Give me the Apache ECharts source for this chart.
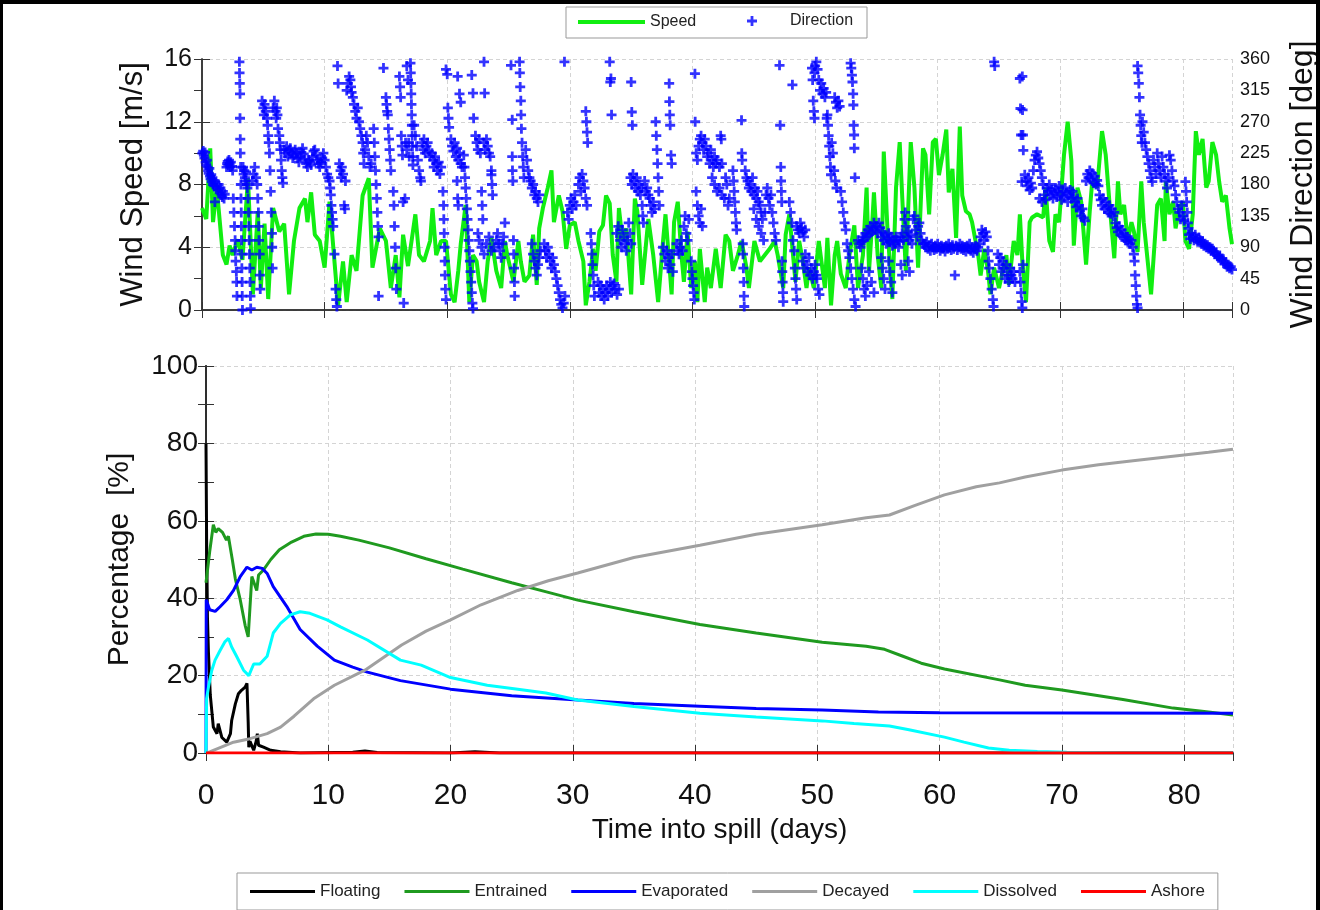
<!DOCTYPE html>
<html>
<head>
<meta charset="utf-8">
<script src="https://cdn.jsdelivr.net/npm/echarts@6/dist/echarts.min.js"></script>
<style>
  html, body { margin: 0; padding: 0; background: #fff; }
  #chart { width: 1320px; height: 910px; }
</style>
</head>
<body>
<div id="chart"></div>
<script>
// wind speed [day, m/s]
var windSpeed = [
  [0,6.5],[0.35,5.8],[0.67,10.3],[0.9,5.6],[1.2,7.8],[1.7,3.5],[2.0,2.9],[2.25,4.1],[2.5,3.5],[2.9,4.5],
  [3.3,3.2],[3.75,8.4],[4.15,1.0],[4.55,6.3],[4.8,1.4],[5.1,5.5],[5.4,0.7],[5.8,6.5],[6.3,5.0],[6.7,5.5],
  [7.1,1.0],[7.5,4.4],[7.95,6.5],[8.4,7.1],[8.6,5.6],[8.9,7.5],[9.2,4.8],[9.6,4.4],[10.0,2.7],[10.4,6.9],
  [11.1,0.3],[11.5,3.1],[11.8,0.5],[12.2,3.5],[12.6,2.5],[13.1,7.3],[13.6,8.4],[13.9,2.7],[14.5,5.2],[15.0,4.4],
  [15.4,1.4],[15.8,3.5],[16.1,0.8],[16.4,4.8],[16.8,2.8],[17.4,6.1],[17.7,3.5],[18.1,3.1],[18.6,4.4],[18.8,6.5],
  [19.1,3.5],[19.5,4.4],[19.9,4.4],[20.3,1.0],[20.6,0.5],[20.9,2.5],[21.1,4.2],[21.5,6.7],[21.8,0.5],[22.1,3.5],
  [22.4,3.1],[22.6,1.8],[23.0,0.5],[23.3,3.1],[23.6,4.6],[24.0,2.5],[24.4,1.4],[24.7,4.4],[24.9,3.5],[25.4,1.8],
  [25.8,4.4],[26.0,3.1],[26.3,1.8],[26.7,2.2],[27.0,4.8],[27.3,1.6],[27.5,5.2],[27.8,6.5],[28.2,7.8],[28.5,8.9],
  [28.7,5.6],[29.1,7.3],[29.4,6.3],[29.7,3.9],[30.0,5.4],[30.4,5.6],[30.7,4.4],[31.1,3.1],[31.3,0.3],[31.6,1.8],
  [31.9,3.9],[32.1,2.5],[32.4,5.0],[32.7,5.4],[32.95,7.3],[33.25,6.8],[33.5,3.5],[33.8,1.8],[34.0,6.5],[34.3,4.4],
  [34.6,5.2],[35.0,1.0],[35.3,7.1],[35.5,6.3],[35.9,1.6],[36.4,5.8],[36.8,3.5],[37.2,0.5],[37.6,4.4],[37.8,6.1],
  [38.3,1.0],[38.5,5.6],[38.8,6.9],[39.1,3.5],[39.3,1.8],[39.6,5.0],[39.9,1.4],[40.2,3.1],[40.4,0.5],[40.6,3.9],
  [41.0,0.5],[41.2,2.7],[41.5,1.4],[41.9,3.9],[42.3,1.4],[42.7,4.8],[43.0,4.4],[43.3,2.5],[43.7,3.5],[44.0,4.4],
  [44.4,2.7],[44.6,1.4],[45.05,4.4],[45.5,3.1],[45.9,3.5],[46.3,3.9],[46.7,4.4],[46.95,3.5],[47.4,1.4],[47.6,4.8],
  [47.9,6.1],[48.2,3.5],[48.4,1.8],[48.7,4.4],[49.0,3.1],[49.3,1.4],[49.5,2.7],[49.9,1.4],[50.3,4.4],[50.8,1.4],
  [51.0,4.6],[51.3,0.3],[51.6,3.5],[51.8,4.4],[52.1,2.3],[52.5,1.4],[52.8,3.5],[53.2,5.4],[53.5,1.4],[53.9,3.5],
  [54.2,7.8],[54.4,2.5],[54.7,6.1],[54.8,7.5],[55.1,3.5],[55.4,1.4],[55.6,10.1],[55.9,5.2],[56.3,0.7],[56.6,7.8],
  [56.9,10.7],[57.1,7.3],[57.4,2.5],[57.8,10.7],[58.1,7.8],[58.4,2.7],[58.8,10.3],[59.0,9.9],[59.3,6.1],[59.6,10.7],
  [59.85,10.9],[60.1,8.6],[60.4,9.9],[60.7,11.5],[60.9,7.5],[61.2,9.0],[61.5,4.6],[61.8,11.7],[62.0,7.3],[62.3,6.3],
  [62.6,6.1],[62.8,5.6],[63.3,3.5],[63.5,2.2],[63.8,3.9],[64.1,2.5],[64.3,1.0],[64.6,2.7],[65.0,1.4],[65.3,2.5],
  [65.6,3.5],[65.8,1.6],[66.2,4.4],[66.5,3.5],[66.7,6.1],[66.9,3.1],[67.2,0.5],[67.5,5.6],[67.7,5.9],[68.1,6.1],
  [68.6,5.9],[68.8,7.8],[69.1,4.4],[69.4,3.7],[69.6,6.1],[69.9,5.6],[70.3,9.9],[70.6,12.0],[70.9,9.5],[71.1,4.1],
  [71.4,7.8],[71.7,6.9],[72.1,2.9],[72.4,6.3],[72.6,8.2],[73.0,7.8],[73.4,11.4],[73.7,9.9],[74.0,6.9],[74.4,3.3],
  [74.7,8.2],[74.9,6.1],[75.2,6.7],[75.5,4.4],[75.8,5.6],[76.0,5.0],[76.3,3.7],[76.6,8.2],[76.8,5.6],[77.1,3.3],
  [77.4,1.0],[77.7,4.4],[77.9,6.7],[78.2,7.1],[78.5,4.4],[78.6,8.2],[78.9,6.1],[79.2,6.9],[79.4,5.2],[79.7,6.5],
  [80.0,6.9],[80.2,4.4],[80.5,3.9],[80.8,6.1],[81.05,11.4],[81.3,9.9],[81.6,10.9],[81.9,7.8],[82.1,8.2],[82.4,10.7],
  [82.7,9.9],[82.95,8.2],[83.2,6.9],[83.5,7.3],[83.8,5.2],[84.0,4.2]
];

// wind direction [day, deg]
var windDir = [
  [0.03,225],[0.1,228],[0.15,222],[0.2,218],[0.25,226],[0.3,212],[0.35,208],[0.4,215],[0.45,205],[0.5,200],
  [0.55,196],[0.6,203],[0.65,192],[0.7,188],[0.75,194],[0.8,184],[0.85,190],[0.9,180],[0.95,186],[1.0,178],[1.05,155],
  [1.1,183],[1.2,176],[1.3,172],[1.35,180],[1.45,168],[1.5,175],[1.6,165],[1.65,162],[1.7,170],[1.8,160],[1.85,166],
  [2.0,205],[2.05,210],[2.1,213],[2.15,208],[2.2,215],[2.25,210],[2.3,205],[2.35,212],[2.45,206],[2.5,200],
  [2.55,160],[2.6,140],[2.65,120],[2.7,100],[2.72,85],[2.75,70],[2.8,55],[2.82,40],[2.85,20],
  [3.05,356],[3.06,340],[3.08,325],[3.1,310],[3.1,275],[3.12,245],[3.13,225],[3.15,205],[3.17,180],[3.18,160],
  [3.2,140],[3.21,120],[3.22,100],[3.24,80],[3.25,60],[3.27,40],[3.28,20],[3.3,0],
  [3.35,205],[3.4,195],[3.45,200],[3.5,190],[3.55,185],[3.6,198],[3.65,180],[3.7,175],[3.75,160],[3.8,140],
  [3.82,120],[3.85,100],[3.87,80],[3.9,60],[3.92,40],[3.95,20],[3.97,2],[4.1,185],[4.2,195],[4.3,205],[4.4,190],
  [4.5,180],[4.55,160],[4.6,140],[4.62,120],[4.65,100],[4.7,80],[4.72,50],[4.75,30],
  [4.9,300],[5.0,290],[5.05,280],[5.1,295],[5.2,285],[5.3,275],[5.35,265],[5.4,250],[5.45,240],[5.5,225],
  [5.55,200],[5.6,170],[5.65,140],[5.7,110],[5.72,90],[5.75,60],[5.8,290],[5.9,300],[6.0,285],[6.05,275],
  [6.1,290],[6.15,280],[6.2,260],[6.3,250],[6.35,240],[6.4,230],[6.45,215],[6.5,200],[6.55,190],[6.6,182],
  [6.7,230],[6.8,225],[6.9,235],[7.0,220],[7.1,228],[7.2,232],[7.3,225],[7.4,218],[7.5,222],[7.6,230],
  [7.7,226],[7.8,218],[7.9,212],[8.0,220],[8.1,226],[8.2,232],[8.3,224],[8.4,216],[8.5,210],[8.6,205],
  [8.7,215],[8.8,212],[8.9,208],[9.0,220],[9.1,228],[9.2,230],[9.3,222],[9.4,215],[9.5,210],[9.6,205],
  [9.7,212],[9.8,218],[9.9,225],[10.0,215],[10.1,205],[10.2,195],[10.3,190],
  [10.4,185],[10.45,175],[10.5,165],[10.55,150],[10.6,140],[10.65,130],[10.7,120],[10.8,80],[10.9,30],
  [10.95,15],[11.0,5],[11.05,350],[11.1,325],
  [11.2,210],[11.3,200],[11.35,190],[11.4,205],[11.5,195],[11.6,150],[11.65,145],[11.7,185],
  [11.8,315],[11.9,325],[12.0,335],[12.1,330],[12.15,320],[12.2,312],[12.3,305],[12.4,295],[12.5,285],
  [12.6,275],[12.7,290],[12.8,270],[12.9,260],[13.0,250],[13.1,240],[13.15,225],[13.2,210],
  [13.3,230],[13.4,250],[13.5,240],[13.6,220],[13.7,205],[13.8,210],[14.0,260],[14.05,240],[14.1,220],
  [14.15,200],[14.2,180],[14.25,160],[14.3,140],[14.35,120],[14.4,105],[14.4,20],
  [14.8,347],[15.0,305],[15.05,295],[15.1,285],[15.15,280],[15.2,260],[15.25,245],[15.3,230],[15.35,215],
  [15.4,200],[15.6,170],[15.65,150],[15.7,120],[15.75,90],[15.8,60],[15.85,30],[16.1,335],[16.15,320],
  [16.2,305],[16.25,250],[16.3,235],[16.35,222],[16.4,155],[16.45,10],[16.7,350],[16.8,330],[16.85,240],[16.9,220],
  [17.0,354],[17.02,340],[17.04,325],[17.06,310],[17.08,295],[17.1,280],[17.12,265],[17.14,250],[17.16,235],
  [17.18,220],[17.2,208],[16.6,240],[16.7,230],[16.55,160],
  [17.3,265],[17.4,250],[17.5,235],[17.6,215],[17.7,200],[17.8,190],[17.85,185],
  [17.95,240],[18.05,230],[18.1,245],[18.2,225],[18.3,235],[18.4,240],[18.5,228],[18.6,220],
  [18.75,225],[18.85,215],[18.9,205],[19.0,220],[19.1,210],[19.2,200],[19.3,212],[19.4,195],[19.5,205],
  [19.65,170],[19.7,150],[19.72,130],[19.75,110],[19.78,90],[19.8,70],[19.82,50],[19.85,30],[19.9,15],
  [19.9,345],[20.0,338],[20.05,290],[20.1,275],[20.15,262],
  [20.3,245],[20.4,235],[20.5,228],[20.6,240],[20.7,220],[20.8,232],[20.9,215],[21.0,225],[21.1,210],[21.2,205],
  [20.85,335],[21.0,310],[21.1,298],[20.8,185],[20.85,160],[20.9,150],
  [21.35,222],[21.4,205],[21.45,190],[21.5,175],[21.55,160],[21.6,145],[21.65,130],[21.7,115],[21.75,100],
  [21.8,85],[21.85,70],[21.9,55],[21.95,40],[22.0,25],[22.05,10],[22.1,2],
  [22.0,337],[22.1,311],[22.15,275],
  [22.3,250],[22.4,240],[22.5,230],[22.6,245],[22.7,225],[22.8,170],[22.85,150],[22.9,130],[23.0,240],
  [23.1,230],[23.2,245],[23.3,235],[23.4,225],[23.5,220],[23.6,200],[23.65,180],[23.7,165],
  [22.5,110],[22.6,100],[22.8,90],[23.0,80],[23.2,95],[23.4,105],[23.6,85],[23.8,90],[24.0,100],[24.1,110],
  [24.2,95],[24.3,85],[24.4,75],[24.5,95],[24.6,105],[24.7,125],
  [23.0,356],[23.05,311],[23.6,194],
  [25.2,351],[25.3,273],[25.3,220],[25.32,200],[25.35,185],[25.4,100],[25.42,80],[25.45,60],[25.48,40],[25.5,20],
  [25.9,356],[25.92,340],[25.95,320],[26.0,300],[26.02,280],[26.05,260],[26.1,240],[26.15,220],[26.2,205],[26.25,190],
  [26.4,230],[26.5,215],[26.6,200],[26.7,190],[26.8,185],[26.9,175],[27.0,180],[27.1,165],[27.2,170],[27.3,160],
  [27.4,155],[27.5,165],
  [26.9,95],[27.0,80],[27.1,70],[27.2,60],[27.3,50],[27.4,65],[27.5,75],[27.6,85],
  [27.9,95],[28.0,85],[28.1,75],[28.2,90],[28.3,80],[28.4,70],[28.5,60],[28.6,75],[28.7,65],[28.8,55],
  [28.9,45],[29.0,35],[29.1,25],[29.2,15],[29.3,8],[29.4,3],[29.5,10],[29.6,20],[29.56,356],
  [29.8,140],[29.9,130],[30.0,150],[30.1,160],[30.2,145],[30.3,155],[30.4,165],[30.5,150],
  [30.7,180],[30.8,190],[30.9,170],[31.0,195],[31.1,185],[31.2,175],[31.3,160],[31.4,150],
  [31.3,285],[31.35,270],[31.4,255],[31.45,240],
  [31.7,110],[31.75,95],[31.8,80],[31.85,65],[31.9,50],[31.95,35],[32.0,20],
  [32.3,40],[32.4,25],[32.5,35],[32.6,20],[32.7,30],[32.8,15],[32.9,25],[33.0,35],[33.1,20],[33.2,30],
  [33.3,40],[33.4,25],[33.5,35],[33.35,332],[33.4,280],
  [33.6,38],[33.7,30],[33.85,22],[34.0,30],[33.25,356],[33.3,327],
  [33.8,110],[33.95,120],[34.1,100],[34.2,90],[34.3,115],[34.4,105],[34.5,95],[34.6,85],[34.7,100],[34.8,125],
  [34.9,110],[35.0,95],[35.0,327],[35.05,284],[35.1,265],
  [34.95,190],[35.05,180],[35.15,195],[35.25,185],[35.35,175],[35.45,190],[35.55,170],[35.65,180],[35.75,165],
  [35.85,175],[35.9,150],[35.95,135],[36.0,125],[36.1,185],[36.2,170],[36.3,175],[36.4,165],
  [36.5,160],[36.6,150],[36.7,140],[36.8,155],[36.9,145],[37.0,270],[37.05,250],[37.1,230],[37.15,210],
  [37.2,190],[37.25,170],[37.3,150],
  [37.6,90],[37.7,80],[37.8,70],[37.9,85],[38.0,60],[38.1,75],[38.2,65],[38.3,80],[38.4,55],
  [38.1,325],[38.12,299],[38.15,280],[38.18,265],[38.25,222],[38.3,210],
  [38.7,95],[38.8,85],[38.9,80],[39.0,90],[39.1,100],[39.2,85],[39.3,120],[39.4,135],[39.5,110],[39.6,100],[39.7,130],
  [39.9,70],[39.95,55],[40.0,45],[40.05,35],[40.1,25],[40.15,15],[40.2,339],[40.22,270],
  [40.3,170],[40.4,150],[40.5,135],[40.6,125],[40.7,145],[40.8,120],
  [40.3,225],[40.4,215],[40.5,235],[40.6,245],[40.7,250],[40.8,240],[40.9,230],[41.0,245],[41.1,235],[41.2,220],
  [41.3,225],[41.4,210],[41.5,230],[41.6,215],[41.7,205],[41.8,220],[41.9,210],[42.0,215],[42.2,205],[42.3,250],
  [42.35,245],[42.4,210],
  [41.6,190],[41.8,180],[42.0,170],[42.2,175],[42.4,165],[42.6,160],[42.7,190],[42.8,180],[42.9,150],[43.0,160],
  [43.3,200],[43.35,185],[43.4,170],[43.45,155],[43.5,140],[43.55,125],[43.6,115],
  [44.0,272],[44.02,225],[44.05,215],[44.1,95],[44.12,80],[44.15,60],[44.18,40],[44.2,20],[44.22,5],
  [44.3,200],[44.4,190],[44.5,185],[44.6,175],[44.7,180],[44.8,170],[44.9,190],[45.0,165],[45.1,175],[45.2,160],
  [45.3,170],[45.4,155],[45.5,150],[45.6,140],[45.7,130],
  [45.0,145],[45.2,130],[45.4,120],[45.6,110],[45.8,100],[45.9,140],
  [46.0,165],[46.1,175],[46.2,160],[46.3,150],[46.4,165],[46.5,140],[46.6,125],[46.7,110],[46.8,100],
  [47.1,351],[47.15,265],[47.2,205],[47.22,185],[47.25,170],[47.28,155],[47.3,70],[47.32,55],[47.35,40],
  [47.38,25],[47.4,12],
  [47.9,155],[48.0,140],[48.1,125],[48.15,323],[48.2,100],[48.3,85],[48.35,60],[48.4,45],[48.45,30],[48.5,15],
  [48.5,120],[48.6,115],[48.7,110],[48.8,125],[48.9,118],[49.0,112],[49.1,105],[49.2,115],
  [49.0,70],[49.1,60],[49.2,80],[49.3,65],[49.4,55],[49.5,75],[49.6,50],[49.7,60],[49.8,45],[49.9,55],[50.0,65],[50.1,50],
  [49.75,347],[49.8,330],[49.85,300],[49.9,285],[49.95,275],
  [49.95,340],[50.0,350],[50.1,356],[50.2,345],[50.3,330],[50.4,315],[50.5,325],[50.6,310],[50.7,318],[50.8,305],
  [50.9,312],[50.95,275],[50.15,45],[50.25,30],[50.35,22],
  [51.0,280],[51.05,265],[51.1,250],[51.15,235],[51.2,220],[51.25,205],[51.3,194],[51.35,240],[51.45,225],
  [51.55,200],[51.65,185],[51.75,175],
  [51.6,305],[51.7,298],[51.8,290],[51.9,300],[52.0,292],
  [52.1,170],[52.2,155],[52.3,140],[52.4,125],[52.5,115],[52.6,95],[52.7,85],
  [52.9,354],[52.95,347],[53.0,337],[53.05,327],[53.1,310],[53.12,294],[53.15,265],[53.18,251],[53.2,232],[53.25,190],
  [52.8,75],[52.9,60],[53.0,45],[53.1,30],[53.2,15],[53.3,5],
  [53.5,100],[53.6,95],[53.7,90],[53.8,98],[53.9,105],[54.0,100],[54.1,110],[54.2,105],[54.3,115],[54.4,108],
  [54.5,120],[54.6,112],[54.7,118],[54.8,125],[54.9,115],[55.0,120],[55.1,110],[55.2,125],[55.3,118],
  [53.8,60],[53.9,45],[54.0,30],[54.1,20],[54.2,35],[54.4,55],[54.6,40],[54.8,25],
  [55.4,105],[55.5,112],[55.6,100],[55.7,108],[55.8,95],[55.9,102],[56.0,110],[56.1,98],[56.2,105],[56.3,92],
  [56.4,100],[56.5,95],[56.6,105],[56.7,100],[56.8,90],[56.9,98],[57.0,105],[57.1,110],[57.2,100],[57.3,130],
  [57.35,140],[57.4,120],[57.5,105],[57.6,112],[57.7,100],[57.8,108],[57.9,95],[58.0,130],[58.1,135],[58.2,115],
  [58.3,105],[58.4,120],[58.5,125],[58.6,110],[58.7,100],[58.8,95],
  [55.4,75],[55.5,60],[55.6,45],[55.7,30],[56.0,70],[56.1,55],[56.2,40],[56.3,25],[57.0,65],[57.1,50],[57.6,70],[57.7,55],
  [58.9,95],[59.0,90],[59.1,98],[59.2,88],[59.3,92],[59.4,85],[59.5,95],[59.6,90],[59.7,86],[59.8,92],
  [59.9,88],[60.0,95],[60.1,90],[60.2,85],[60.3,92],[60.4,88],[60.5,90],[60.6,84],[60.7,92],[60.8,88],
  [60.9,95],[61.0,90],[61.1,86],[61.2,93],[61.3,88],[61.4,50],[61.5,92],[61.6,86],[61.7,90],[61.8,95],
  [61.9,88],[62.0,92],[62.1,86],[62.2,90],[62.3,84],[62.4,92],[62.5,88],[62.6,95],[62.7,85],[62.8,90],
  [62.9,82],[63.0,88],[63.1,92],[63.2,85],[63.3,90],[63.4,95],
  [63.5,105],[63.6,115],[63.7,110],[63.8,100],[63.9,112],[64.0,105],
  [64.1,85],[64.15,70],[64.2,60],[64.3,45],[64.4,30],[64.5,15],[64.55,5],[64.6,356],[64.65,350],
  [64.9,80],[65.0,65],[65.1,75],[65.2,55],[65.3,70],[65.4,60],[65.5,45],[65.6,65],[65.7,50],[65.8,40],
  [65.9,60],[66.0,50],[66.1,45],[66.2,55],[66.3,40],
  [66.7,332],[66.75,289],[66.8,251],[66.85,184],
  [66.7,55],[66.75,40],[66.8,25],[66.85,12],[66.9,3],[66.95,65],
  [66.9,335],[66.92,287],[66.95,251],[66.98,229],
  [67.1,194],[67.2,185],[67.3,178],[67.4,190],[67.5,172],[67.6,182],[67.7,175],
  [67.8,200],[67.9,215],[68.0,222],[68.1,227],[68.2,218],[68.3,210],[68.4,200],[68.5,190],[68.6,180],
  [68.7,165],[68.8,158],[68.3,160],[68.5,155],
  [68.9,175],[69.0,170],[69.1,180],[69.2,165],[69.3,172],[69.4,160],[69.5,168],[69.6,175],[69.7,162],[69.8,170],
  [69.9,178],[70.0,165],[70.1,158],[70.2,170],[70.3,162],[70.4,175],[70.5,168],[70.6,155],[70.7,165],[70.8,172],[70.9,160],
  [71.0,170],[71.1,162],[71.2,155],[71.3,148],[71.4,160],[71.5,150],[71.6,142],[71.7,135],[71.8,145],[71.9,132],[72.0,128],
  [72.1,185],[72.2,195],[72.3,190],[72.4,200],[72.5,188],[72.6,196],[72.7,182],[72.8,192],[72.9,180],[73.0,186],[73.1,178],
  [73.2,165],[73.3,158],[73.4,150],[73.5,160],[73.6,145],[73.7,155],[73.8,148],[73.9,140],[74.0,150],[74.1,138],
  [74.2,145],[74.3,135],[74.4,140],
  [74.5,125],[74.6,118],[74.7,112],[74.8,120],[74.9,108],[75.0,115],[75.1,105],[75.2,110],[75.3,100],[75.4,105],
  [75.5,98],[75.6,102],[75.7,95],[75.8,100],
  [75.9,90],[76.0,80],[76.05,70],[76.1,50],[76.15,35],[76.2,20],[76.25,8],[76.3,3],
  [76.3,350],[76.35,340],[76.4,325],[76.45,305],[76.5,280],[76.55,265],[76.6,250],[76.65,240],[76.7,270],
  [76.8,255],[76.9,240],[77.0,230],[77.1,220],[77.2,210],[77.3,200],[77.4,190],[77.5,184],
  [77.6,215],[77.7,205],[77.8,195],[77.9,225],[78.0,210],[78.1,200],[78.2,190],[78.3,220],[78.4,205],[78.5,195],
  [78.6,185],[78.7,175],[78.8,190],[78.9,222],[79.0,215],[79.1,200],[79.2,185],[79.3,178],
  [79.4,165],[79.5,155],[79.6,145],[79.7,140],[79.8,130],[79.9,150],[80.0,135],[80.1,128],
  [80.2,184],[80.25,170],[80.3,155],[80.35,140],[80.4,125],[80.45,117],
  [80.5,108],[80.6,102],[80.7,110],[80.8,105],[80.9,100],[81.0,108],[81.1,102],[81.2,98],[81.3,104],[81.4,100],
  [81.5,95],[81.6,98],[81.7,92],[81.8,95],[81.9,90],[82.0,93],[82.1,88],[82.2,90],[82.3,85],[82.4,88],
  [82.5,84],[82.6,80],[82.7,82],[82.8,78],[82.9,75],[83.0,78],[83.1,72],[83.2,74],[83.3,70],[83.4,66],
  [83.5,68],[83.6,62],[83.7,65],[83.8,60],[83.9,62],[84.0,58]
];

// oil budget [day, %]
var floating = [
  [0,80],[0.05,55],[0.12,35],[0.2,26],[0.35,15],[0.6,6.7],[0.9,5],[1.0,7.6],[1.3,4],[1.7,2.8],
  [2.0,5],[2.1,8.4],[2.4,12.7],[2.65,15.3],[2.9,16.2],[3.2,17],[3.35,18],[3.45,8],[3.5,1.5],[3.6,3],
  [3.9,0.7],[4.1,3],[4.2,5],[4.3,2],[4.7,1.5],[5.3,0.7],[6.1,0.3],[7.7,0],[12,0.2],[13,0.5],
  [14,0.1],[20,0],[22,0.3],[24,0],[84,0]
];
var entrained = [
  [0,44],[0.3,52],[0.6,59],[0.8,57],[1.0,58],[1.35,57],[1.67,55],[1.83,56],[2.15,50],[2.4,45],
  [2.8,39.6],[3.2,33],[3.45,30],[3.75,45.6],[4.15,42],[4.3,46],[4.7,47.3],[5.3,50],[6.0,52.5],[7.0,54.5],
  [8.0,56],[9.0,56.6],[10.0,56.5],[11.0,56],[12.5,55],[15,53],[18,50.2],[21,47.5],[25,44],[28,41.5],
  [30.4,39.5],[35,36.5],[40.4,33.2],[45,31],[50.4,28.6],[54,27.6],[55.5,26.8],[57,25],[58.5,23.2],[60.4,21.7],
  [64.9,18.9],[67,17.5],[70,16.3],[75,13.8],[79.1,11.6],[82,10.6],[84,9.8]
];
var evaporated = [
  [0,0],[0.02,39.6],[0.3,37],[0.75,36.6],[1.15,37.8],[1.7,39.6],[2.25,42],[2.8,45.6],[3.35,48],[3.75,47.3],
  [4.15,48],[4.6,47.7],[5.0,46.4],[5.5,43],[6.6,37.9],[7.7,31.9],[9.1,27.6],[10.5,24],[12,22.2],[13.2,20.9],
  [15.9,18.7],[20,16.5],[25,14.8],[30.4,13.7],[35,12.8],[40.4,12.1],[45,11.5],[50.4,11.1],[55,10.6],[60,10.4],[84,10.3]
];
var decayed = [
  [0,0],[0.3,0.3],[1.0,1.2],[2.25,2.8],[3.6,3.7],[5.0,5],[6.1,6.7],[7.2,9.5],[8.8,14],[10.5,17.5],
  [13,21.4],[16,27.9],[18,31.5],[20,34.4],[22.5,38.3],[25.5,42],[28,44.5],[30.4,46.5],[35,50.5],[40.4,53.7],
  [45,56.5],[50.4,59],[54,60.8],[55.9,61.5],[58,64],[60.4,66.7],[63,68.8],[64.9,69.8],[67,71.3],[70,73.1],
  [73,74.5],[76,75.6],[80,77],[82,77.7],[84,78.5]
];
var dissolved = [
  [0,0],[0.05,14],[0.2,17],[0.47,21.3],[0.74,24],[1.15,26.5],[1.56,28.8],[1.84,29.6],[2.1,27.4],[2.5,25],
  [3.07,21.4],[3.5,20],[3.9,23],[4.4,23],[5.0,25],[5.5,31],[6.1,33.5],[6.9,35.7],[7.7,36.5],[8.5,36.1],
  [9.9,34.4],[11.0,32.6],[13.2,29.2],[15.9,24],[17.6,22.7],[20,19.5],[23,17.5],[25.5,16.5],[27.8,15.5],[30.4,13.7],
  [35,12],[40.4,10.3],[45,9.3],[50.4,8.3],[53,7.6],[55.9,7],[57.5,6],[60.4,4.1],[62,2.8],[64,1.3],
  [65.7,0.7],[68,0.4],[70.4,0.2],[75,0],[84,0]
];
var ashore = [[0,0],[84,0]];

var budgetNames = ['Floating', 'Entrained', 'Evaporated', 'Decayed', 'Dissolved', 'Ashore'];
var budgetColors = ['#000000', '#1f9a1f', '#0000ff', '#a0a0a0', '#00ffff', '#ff0000'];
var budgetData = [floating, entrained, evaporated, decayed, dissolved, ashore];

var FONT = '"Liberation Sans", Arial, Helvetica, sans-serif';
var plusPath = 'path://M3.6,0H6.4V3.6H10V6.4H6.4V10H3.6V6.4H0V3.6H3.6Z';

var chart = echarts.init(document.getElementById('chart'));

function tickAxis(grid, pos) {
    return {
        type: 'value', gridIndex: grid, position: pos,
        min: 0, max: 84, interval: 10,
        axisLine: { show: true, lineStyle: { color: '#333', width: 1.5 } },
        axisTick: { show: true, inside: true, length: 8, lineStyle: { color: '#333' } },
        axisLabel: { show: false },
        splitLine: { show: false }
    };
}

var gridLine = { show: true, lineStyle: { color: '#d4d4d4', type: [4, 3], width: 1 } };

var series = [
    {
        name: 'Speed', type: 'line', xAxisIndex: 0, yAxisIndex: 0,
        data: windSpeed, symbol: 'none', z: 2,
        lineStyle: { color: '#11ee11', width: 4 },
        itemStyle: { color: '#11ee11' }
    },
    {
        name: 'Direction', type: 'scatter', xAxisIndex: 0, yAxisIndex: 1,
        data: windDir, symbol: plusPath, symbolSize: 10, z: 3,
        itemStyle: { color: '#0000ff' }
    }
];
budgetNames.forEach(function (n, i) {
    series.push({
        name: n, type: 'line', xAxisIndex: 2, yAxisIndex: 2,
        data: budgetData[i], symbol: 'none', z: 2 + i,
        lineStyle: { color: budgetColors[i], width: 3 },
        itemStyle: { color: budgetColors[i] }
    });
});

var option = {
    animation: false,
    backgroundColor: '#fff',
    textStyle: { fontFamily: FONT },
    grid: [
        { left: 202, top: 59, width: 1030, height: 251, outerBoundsMode: 'none' },
        { left: 206, top: 366, width: 1027, height: 387, outerBoundsMode: 'none' }
    ],
    legend: [
        {
            data: [{ name: 'Speed', icon: 'rect' }], left: 578, top: 14, padding: 0,
            itemWidth: 67, itemHeight: 4,
            textStyle: { fontSize: 16, color: '#222', fontFamily: FONT }
        },
        {
            data: ['Direction'], left: 747, top: 13, padding: 0,
            itemWidth: 10, itemHeight: 10,
            textStyle: { fontSize: 16, color: '#222', fontFamily: FONT, padding: [0, 0, 0, 28] }
        },
        {
            data: budgetNames, icon: 'rect', left: 237, top: 873, padding: [10, 13],
            itemGap: 24, itemWidth: 65, itemHeight: 3,
            borderColor: '#999', borderWidth: 1,
            textStyle: { fontSize: 17, color: '#222', fontFamily: FONT, lineHeight: 14 }
        }
    ],
    xAxis: [
        Object.assign(tickAxis(0, 'bottom'), { splitLine: gridLine }),
        tickAxis(0, 'top'),
        Object.assign(tickAxis(1, 'bottom'), {
            splitLine: gridLine,
            axisLabel: { show: true, showMaxLabel: false, fontSize: 30, color: '#111', margin: 28, fontFamily: FONT },
            name: 'Time into spill (days)', nameLocation: 'middle', nameGap: 63,
            nameTextStyle: { fontSize: 28, color: '#111', fontFamily: FONT }
        }),
        tickAxis(1, 'top')
    ],
    yAxis: [
        {
            type: 'value', gridIndex: 0, position: 'left',
            min: 0, max: 16, interval: 4,
            axisLine: { show: true, lineStyle: { color: '#333', width: 1.5 } },
            axisTick: { show: true, inside: true, length: 8, lineStyle: { color: '#333' } },
            axisLabel: { fontSize: 25, color: '#111', margin: 10, fontFamily: FONT },
            splitLine: gridLine,
            name: 'Wind Speed [m/s]', nameLocation: 'middle', nameGap: 53, nameRotate: 90,
            nameTextStyle: { fontSize: 31, color: '#111', fontFamily: FONT }
        },
        {
            type: 'value', gridIndex: 0, position: 'right',
            min: 0, max: 360, interval: 45,
            axisLine: { show: true, lineStyle: { color: '#333', width: 1.5 } },
            axisTick: { show: true, inside: true, length: 8, lineStyle: { color: '#333' } },
            axisLabel: { fontSize: 18, color: '#111', margin: 8, fontFamily: FONT },
            splitLine: { show: false },
            name: 'Wind Direction [deg]', nameLocation: 'middle', nameGap: 55, nameRotate: 90,
            nameTextStyle: { fontSize: 32, color: '#111', fontFamily: FONT }
        },
        {
            type: 'value', gridIndex: 1, position: 'left',
            min: 0, max: 100, interval: 20,
            axisLine: { show: true, lineStyle: { color: '#222', width: 2 } },
            axisTick: { show: true, inside: true, length: 8, lineStyle: { color: '#333' } },
            minorTick: { show: true, splitNumber: 2, length: 8, lineStyle: { color: '#333' } },
            axisLabel: { fontSize: 28, color: '#111', margin: 8, fontFamily: FONT },
            splitLine: gridLine,
            name: 'Percentage  [%]', nameLocation: 'middle', nameGap: 71, nameRotate: 90,
            nameTextStyle: { fontSize: 30, color: '#111', fontFamily: FONT }
        },
        {
            type: 'value', gridIndex: 1, position: 'right',
            min: 0, max: 100, interval: 20,
            axisLine: { show: true, lineStyle: { color: '#333', width: 1.5 } },
            axisTick: { show: true, inside: true, length: 8, lineStyle: { color: '#333' } },
            minorTick: { show: true, splitNumber: 2, length: 8, lineStyle: { color: '#333' } },
            axisLabel: { show: false },
            splitLine: { show: false }
        }
    ],
    graphic: [
        { type: 'rect', z: 10, shape: { x: 566, y: 7, width: 301, height: 31 },
          style: { fill: 'none', stroke: '#999', lineWidth: 1 } },
        { type: 'rect', z: 100, shape: { x: 0, y: 0, width: 1320, height: 4 }, style: { fill: '#000' } },
        { type: 'rect', z: 100, shape: { x: 0, y: 0, width: 3, height: 910 }, style: { fill: '#000' } },
        { type: 'rect', z: 100, shape: { x: 1316, y: 0, width: 4, height: 910 }, style: { fill: '#000' } }
    ],
    series: series
};

chart.setOption(option);
</script>
</body>
</html>
